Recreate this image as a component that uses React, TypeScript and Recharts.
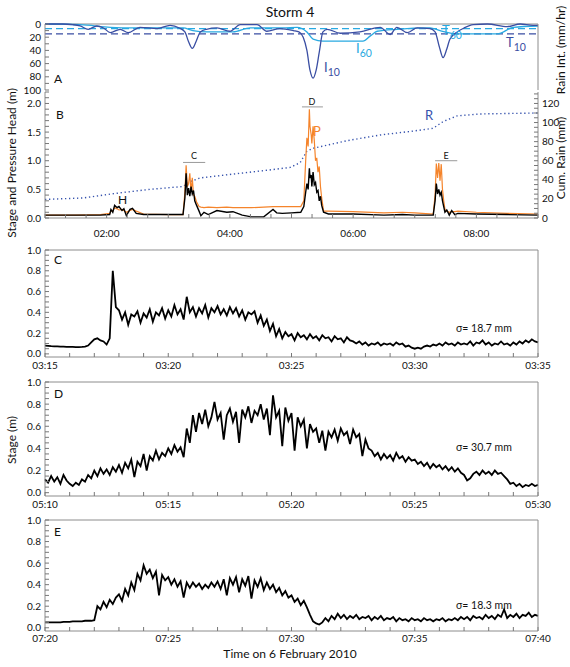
import { LineChart, Line, XAxis, YAxis, ReferenceLine } from 'recharts';

const GRAY = '#8c8c8c';
const TICK = '#777777';
const FONT = 'Lato, "Open Sans", sans-serif';
const DARK_BLUE = '#3a4ea3';
const CYAN = '#29a9e1';
const ORANGE = '#f5842b';
const R_BLUE = '#3552ad';

// Panel A: rain intensity (mm/hr), time in hours
const I10_TIME = [1.0, 1.29, 1.45, 1.57, 1.7, 1.84, 1.95, 2.06, 2.22, 2.35, 2.54, 2.82, 3.03, 3.18, 3.27, 3.33, 3.39, 3.45, 3.52, 3.62, 3.79, 4.0, 4.17, 4.44, 4.6, 4.81, 5.03, 5.12, 5.19, 5.25, 5.3, 5.35, 5.4, 5.45, 5.51, 5.58, 5.79, 6.11, 6.44, 6.6, 6.71, 6.88, 7.04, 7.25, 7.33, 7.4, 7.46, 7.52, 7.57, 7.69, 7.8, 7.95, 8.18, 8.5, 8.71, 8.92, 9.0];
const I10_VAL = [0, 0, 1, 3, 8, 3, 6, 13, 8, 13, 5, 7, 2, 6, 12, 27, 37, 27, 12, 8, 6, 11, 1, 1, 11, 7, 10, 12, 20, 40, 70, 82, 70, 43, 12, 8, 14, 12, 5, 16, 5, 13, 6, 7, 12, 35, 51, 38, 23, 12, 6, 1, 0, 4, 0, 2, 2];
const I60_TIME = [1.0, 1.57, 2.06, 2.43, 3.24, 3.4, 3.63, 4.05, 4.33, 4.86, 5.09, 5.25, 5.35, 5.51, 6.16, 6.28, 6.39, 6.71, 7.25, 7.41, 7.69, 8.34, 8.6, 9.0];
const I60_VAL = [0, 1, 5, 6, 6, 10, 12, 12, 6, 6, 5, 12, 23, 26, 26, 18, 11, 8, 6, 10, 15, 15, 5, 3];
const T10 = 15;
const T60 = 7;

// Panel B: stage (H) and pressure head (P) in m, cumulative rain (R) in mm
const B_TIME = [1.0, 1.5, 1.9, 2.05, 2.07, 2.1, 2.13, 2.17, 2.2, 2.25, 2.28, 2.32, 2.38, 2.42, 2.48, 2.6, 3.0, 3.24, 3.27, 3.29, 3.31, 3.33, 3.35, 3.37, 3.39, 3.41, 3.43, 3.46, 3.5, 3.53, 3.58, 3.65, 3.79, 3.95, 4.05, 4.2, 4.35, 4.55, 4.7, 4.76, 4.85, 5.0, 5.15, 5.2, 5.23, 5.25, 5.27, 5.29, 5.3, 5.32, 5.33, 5.35, 5.37, 5.39, 5.41, 5.43, 5.45, 5.47, 5.49, 5.52, 5.6, 6.0, 6.5, 6.8, 7.0, 7.3, 7.33, 7.35, 7.37, 7.39, 7.41, 7.43, 7.45, 7.47, 7.49, 7.52, 7.56, 7.6, 7.65, 7.7, 8.0, 8.5, 9.0];
const B_STAGE = [0.05, 0.05, 0.05, 0.06, 0.15, 0.1, 0.22, 0.18, 0.2, 0.13, 0.16, 0.04, 0.15, 0.17, 0.08, 0.06, 0.06, 0.06, 0.35, 0.78, 0.4, 0.52, 0.38, 0.55, 0.42, 0.48, 0.3, 0.22, 0.12, 0.04, 0.1, 0.06, 0.13, 0.1, 0.11, 0.05, 0.02, 0.02, 0.15, 0.09, 0.08, 0.09, 0.1, 0.2, 0.45, 0.6, 0.5, 0.87, 0.7, 0.75, 0.55, 0.8, 0.58, 0.62, 0.45, 0.48, 0.3, 0.38, 0.22, 0.1, 0.07, 0.07, 0.05, 0.06, 0.05, 0.05, 0.3, 0.6, 0.42, 0.5, 0.4, 0.45, 0.3, 0.2, 0.1, 0.14, 0.05, 0.13, 0.06, 0.08, 0.07, 0.06, 0.05];
const B_PRESS = [0.05, 0.05, 0.06, 0.08, 0.12, 0.12, 0.18, 0.16, 0.14, 0.15, 0.13, 0.1, 0.13, 0.15, 0.12, 0.07, 0.06, 0.06, 0.45, 0.92, 0.55, 0.6, 0.78, 0.45, 0.7, 0.4, 0.38, 0.28, 0.2, 0.19, 0.18, 0.19, 0.18, 0.19, 0.18, 0.18, 0.18, 0.19, 0.2, 0.2, 0.2, 0.2, 0.2, 0.3, 1.0, 1.4, 1.25, 1.9, 1.6, 1.45, 1.3, 1.6, 1.35, 1.0, 1.05, 0.8, 0.9, 0.55, 0.35, 0.12, 0.12, 0.11, 0.09, 0.1, 0.09, 0.07, 0.4, 0.95, 0.7, 0.96, 0.65, 0.94, 0.5, 0.3, 0.15, 0.12, 0.1, 0.11, 0.11, 0.12, 0.1, 0.08, 0.07];
const R_TIME = [1.0, 1.62, 2.17, 2.7, 3.24, 3.35, 3.52, 4.05, 4.6, 4.98, 5.14, 5.25, 5.35, 5.9, 6.44, 6.97, 7.3, 7.46, 7.69, 8.06, 9.0];
const R_CUM = [19.5, 21, 26, 30, 33, 38, 42, 46, 50, 53, 58, 70, 73, 81, 87, 91, 94, 101, 107, 109, 110];
const BRACKETS = [
  { name: 'C', from: 3.24, to: 3.6, y: 0.97 },
  { name: 'D', from: 5.17, to: 5.51, y: 1.94 },
  { name: 'E', from: 7.33, to: 7.69, y: 1.0 },
];

// Panels C, D, E: stage (m), one sample every 7.5 s over 20 minutes
const STEP_MIN = 0.125;
const C_LABELS = ['03:15', '03:20', '03:25', '03:30', '03:35'];
const D_LABELS = ['05:10', '05:15', '05:20', '05:25', '05:30'];
const E_LABELS = ['07:20', '07:25', '07:30', '07:35', '07:40'];
const C_STAGE = [
  0.08, 0.078, 0.075, 0.073, 0.072, 0.07, 0.069, 0.068, 0.067, 0.067, 0.066, 0.066, 0.067, 0.07,
  0.08, 0.11, 0.14, 0.15, 0.13, 0.12, 0.09, 0.15, 0.8, 0.45,
  0.42, 0.33, 0.4, 0.28, 0.38, 0.36, 0.41, 0.3,
  0.39, 0.35, 0.43, 0.31, 0.4, 0.37, 0.44, 0.34,
  0.42, 0.36, 0.47, 0.38, 0.43, 0.33, 0.55, 0.4,
  0.45, 0.36, 0.44, 0.39, 0.47, 0.35, 0.44, 0.4,
  0.46, 0.38, 0.43, 0.37, 0.45, 0.39, 0.44, 0.36,
  0.42, 0.33, 0.4, 0.38, 0.41, 0.3, 0.37, 0.27,
  0.33, 0.22, 0.29, 0.17, 0.24, 0.15, 0.21, 0.17,
  0.19, 0.13, 0.2, 0.16, 0.18, 0.14, 0.19, 0.15,
  0.17, 0.13, 0.18, 0.15, 0.16, 0.12, 0.17, 0.14,
  0.15, 0.11, 0.16, 0.13, 0.12, 0.1, 0.12, 0.09,
  0.11, 0.08, 0.1, 0.09, 0.11, 0.08, 0.1, 0.09,
  0.1, 0.08, 0.11, 0.09, 0.1, 0.07, 0.08, 0.06,
  0.05, 0.06, 0.05, 0.07, 0.08, 0.07, 0.09, 0.08,
  0.1, 0.08, 0.11, 0.09, 0.1, 0.08, 0.11, 0.09,
  0.1, 0.09, 0.12, 0.08, 0.11, 0.1, 0.13, 0.09,
  0.11, 0.08, 0.1, 0.09, 0.12, 0.09, 0.1, 0.08,
  0.11, 0.09, 0.12, 0.1, 0.13, 0.11, 0.14, 0.12, 0.11,
];
const D_STAGE = [
  0.12, 0.09, 0.15, 0.1, 0.14, 0.08, 0.16, 0.11,
  0.08, 0.06, 0.09, 0.07, 0.12, 0.1, 0.16, 0.13,
  0.2, 0.15, 0.22, 0.17, 0.21, 0.16, 0.23, 0.19,
  0.25, 0.18, 0.27, 0.22, 0.3, 0.14, 0.28, 0.24,
  0.35, 0.2, 0.33, 0.29, 0.38, 0.3, 0.36, 0.33,
  0.4, 0.35, 0.43, 0.37, 0.41, 0.32, 0.58, 0.45,
  0.7, 0.55, 0.72, 0.62, 0.75, 0.6, 0.68, 0.82,
  0.66, 0.72, 0.48, 0.7, 0.76, 0.64, 0.73, 0.45,
  0.75, 0.68, 0.78, 0.63, 0.74, 0.7, 0.8, 0.66,
  0.76, 0.52, 0.88, 0.68, 0.74, 0.42, 0.77, 0.65,
  0.72, 0.38, 0.68, 0.6, 0.66, 0.4, 0.62, 0.55,
  0.58, 0.45, 0.56, 0.38, 0.55, 0.5, 0.57, 0.47,
  0.58, 0.52, 0.55, 0.44, 0.57, 0.5, 0.53, 0.33,
  0.48, 0.4, 0.38, 0.33, 0.36, 0.3, 0.35, 0.31,
  0.34, 0.29, 0.36, 0.31, 0.33, 0.28, 0.32, 0.29,
  0.3, 0.26, 0.28, 0.24, 0.27, 0.22, 0.26, 0.23,
  0.25, 0.21, 0.24, 0.2, 0.23, 0.19, 0.22, 0.18,
  0.16, 0.11, 0.13, 0.17, 0.19, 0.16, 0.2, 0.17,
  0.19, 0.16, 0.2, 0.17, 0.18, 0.15, 0.12, 0.08,
  0.09, 0.06, 0.08, 0.05, 0.07, 0.06, 0.08, 0.06, 0.07,
];
const E_STAGE = [
  0.05, 0.05, 0.05, 0.05, 0.05, 0.05, 0.055, 0.055,
  0.055, 0.06, 0.06, 0.06, 0.06, 0.065, 0.065, 0.065,
  0.07, 0.2, 0.17, 0.24, 0.19, 0.26, 0.22, 0.28,
  0.31, 0.25, 0.36, 0.3, 0.42, 0.35, 0.5, 0.44,
  0.58, 0.5, 0.54, 0.46, 0.52, 0.3, 0.49, 0.44,
  0.47, 0.4, 0.45, 0.38, 0.43, 0.28, 0.42, 0.37,
  0.42, 0.38, 0.41, 0.36, 0.4, 0.37, 0.42, 0.38,
  0.43, 0.36, 0.45, 0.3, 0.46, 0.4, 0.47, 0.33,
  0.45, 0.39, 0.48, 0.27, 0.44, 0.38, 0.46, 0.35,
  0.42, 0.36, 0.4, 0.33, 0.37, 0.3, 0.34, 0.28,
  0.3, 0.24, 0.27, 0.21, 0.25, 0.19, 0.12, 0.06,
  0.04, 0.03, 0.05, 0.09, 0.06, 0.11, 0.08, 0.13,
  0.09, 0.12, 0.08, 0.11, 0.09, 0.12, 0.08, 0.1,
  0.09, 0.11, 0.07, 0.1, 0.08, 0.11, 0.07, 0.09,
  0.08, 0.1, 0.06, 0.09, 0.07, 0.08, 0.06, 0.09,
  0.07, 0.08, 0.06, 0.09, 0.07, 0.08, 0.06, 0.08,
  0.07, 0.09, 0.06, 0.08, 0.07, 0.09, 0.07, 0.1,
  0.08, 0.1, 0.07, 0.11, 0.09, 0.1, 0.08, 0.12,
  0.09, 0.11, 0.08, 0.12, 0.1, 0.17, 0.09, 0.12,
  0.1, 0.13, 0.09, 0.12, 0.11, 0.14, 0.1, 0.12, 0.11,
];

function range(a: number, b: number, s: number) {
  const out: number[] = [];
  for (let i = 0; a + i * s <= b + 1e-9; i++) out.push(+(a + i * s).toFixed(4));
  return out;
}

function onStep(v: number, step: number) {
  const r = v / step;
  return Math.abs(r - Math.round(r)) < 1e-6;
}

// label only the majors, minor ticks keep an empty label
const majorFmt = (step: number, fmt: (v: number) => string) => (v: number) => (onStep(v, step) ? fmt(v) : '');

const tickText = { fontSize: 10, fill: '#111', fontFamily: FONT };

// inward ticks, IDL box style
const yAxisBase = {
  tickSize: -4,
  tickMargin: 8,
  interval: 0 as const,
  tickLine: { stroke: TICK },
  axisLine: { stroke: GRAY },
  tick: tickText,
};

const xAxisBase = (margin: number) => ({
  tickSize: -4,
  tickMargin: margin,
  interval: 0 as const,
  tickLine: { stroke: TICK },
  axisLine: { stroke: GRAY },
  tick: tickText,
});

const hourFmt = (h: number) => `0${Math.round(h)}:00`;

function PanelA() {
  const i10 = I10_TIME.map((t, i) => ({ t, v: I10_VAL[i] }));
  const i60 = I60_TIME.map((t, i) => ({ t, v: I60_VAL[i] }));
  const yt = range(0, 100, 10);
  return (
    <LineChart width={570} height={100} margin={{ top: 24, right: 0, bottom: 10, left: 0 }}>
      <XAxis dataKey="t" type="number" domain={[1, 9]} hide />
      <YAxis yAxisId="l" width={45} domain={[0, 100]} reversed ticks={yt} {...yAxisBase} tickFormatter={majorFmt(20, String)} />
      <YAxis yAxisId="r" orientation="right" width={32} domain={[0, 100]} reversed ticks={yt} {...yAxisBase} tickFormatter={majorFmt(20, String)} />
      <ReferenceLine yAxisId="l" y={0} stroke={GRAY} />
      <ReferenceLine yAxisId="l" y={T60} stroke={CYAN} strokeDasharray="7 4" strokeWidth={1.2} />
      <ReferenceLine yAxisId="l" y={T10} stroke={DARK_BLUE} strokeDasharray="7 4" strokeWidth={1.2} />
      <Line yAxisId="l" data={i60} dataKey="v" type="monotone" stroke={CYAN} strokeWidth={1.3} dot={false} isAnimationActive={false} />
      <Line yAxisId="l" data={i10} dataKey="v" type="monotone" stroke={DARK_BLUE} strokeWidth={1.3} dot={false} isAnimationActive={false} />
    </LineChart>
  );
}

function PanelB() {
  const hp = B_TIME.map((t, i) => ({ t, h: B_STAGE[i], p: B_PRESS[i] }));
  const rc = R_TIME.map((t, i) => ({ t, r: R_CUM[i] }));
  return (
    <LineChart width={570} height={166} margin={{ top: 8, right: 0, bottom: 0, left: 0 }}>
      <XAxis dataKey="t" type="number" domain={[1, 9]} ticks={range(1, 9, 1 / 3)} height={32} {...xAxisBase(16)} tickFormatter={majorFmt(2, hourFmt)} />
      <YAxis yAxisId="l" width={45} domain={[0, 2.2]} ticks={range(0, 2.2, 0.1)} {...yAxisBase} tickFormatter={majorFmt(0.5, (v) => v.toFixed(1))} />
      <YAxis yAxisId="r" orientation="right" width={32} domain={[0, 132]} ticks={range(0, 130, 5)} {...yAxisBase} tickFormatter={majorFmt(20, String)} />
      {BRACKETS.map((b) => (
        <ReferenceLine key={b.name} yAxisId="l" segment={[{ x: b.from, y: b.y }, { x: b.to, y: b.y }]} stroke="#999" strokeWidth={1} />
      ))}
      <Line yAxisId="r" data={rc} dataKey="r" stroke={R_BLUE} strokeWidth={1.4} strokeDasharray="1.3 2.7" dot={false} isAnimationActive={false} />
      <Line yAxisId="l" data={hp} dataKey="p" stroke={ORANGE} strokeWidth={1.2} dot={false} isAnimationActive={false} />
      <Line yAxisId="l" data={hp} dataKey="h" stroke="#000" strokeWidth={1.4} dot={false} isAnimationActive={false} />
    </LineChart>
  );
}

function StagePanel({ values, labels, plotH, margin }: { values: number[]; labels: string[]; plotH: number; margin: number }) {
  const data = values.map((s, i) => ({ t: i * STEP_MIN, s }));
  const yt = range(0, 1, 0.05);
  return (
    <LineChart width={570} height={plotH + 33} data={data} margin={{ top: 8, right: 0, bottom: 0, left: 0 }}>
      <XAxis dataKey="t" type="number" domain={[0, 20]} ticks={range(0, 20, 1)} height={25} {...xAxisBase(margin)} tickFormatter={majorFmt(5, (v) => labels[Math.round(v / 5)])} />
      <YAxis yAxisId="l" width={45} domain={[-0.03, 1]} ticks={yt} {...yAxisBase} tickFormatter={majorFmt(0.2, (v) => v.toFixed(1))} />
      <YAxis yAxisId="r" orientation="right" width={32} domain={[-0.03, 1]} ticks={yt} {...yAxisBase} tickFormatter={() => ''} />
      <ReferenceLine yAxisId="l" y={1} stroke={GRAY} />
      <Line yAxisId="l" dataKey="s" stroke="#000" strokeWidth={1.8} dot={false} isAnimationActive={false} />
    </LineChart>
  );
}

function Sub({ x, y, main, sub, color }: { x: number; y: number; main: string; sub: string; color: string }) {
  return (
    <text x={x} y={y} fill={color} fontFamily={FONT} fontSize={13}>
      {main}
      <tspan dy={4} fontSize={10.5}>{sub}</tspan>
    </text>
  );
}

export default function App() {
  const t = { fontFamily: FONT, fill: '#111' };
  return (
    <div style={{ position: 'absolute', left: 0, top: 0, width: 570, height: 667, background: '#fff' }}>
      <div style={{ position: 'absolute', left: 0, top: 0 }}>
        <PanelA />
      </div>
      <div style={{ position: 'absolute', left: 0, top: 84 }}>
        <PanelB />
      </div>
      <div style={{ position: 'absolute', left: 0, top: 242 }}>
        <StagePanel values={C_STAGE} labels={C_LABELS} plotH={107} margin={9} />
      </div>
      <div style={{ position: 'absolute', left: 0, top: 374 }}>
        <StagePanel values={D_STAGE} labels={D_LABELS} plotH={114} margin={9} />
      </div>
      <div style={{ position: 'absolute', left: 0, top: 512 }}>
        <StagePanel values={E_STAGE} labels={E_LABELS} plotH={111} margin={8} />
      </div>
      <svg width={570} height={667} style={{ position: 'absolute', left: 0, top: 0, pointerEvents: 'none' }}>
        <text x={290} y={17} textAnchor="middle" fontSize={14} {...t}>Storm 4</text>
        <text x={54} y={83} fontSize={12} {...t}>A</text>
        <text x={56} y={119} fontSize={12} {...t}>B</text>
        <text x={54} y={264} fontSize={12} {...t}>C</text>
        <text x={54} y={398} fontSize={12} {...t}>D</text>
        <text x={54} y={536} fontSize={12} {...t}>E</text>
        <Sub x={324} y={72} main="I" sub="10" color={DARK_BLUE} />
        <Sub x={356} y={53} main="I" sub="60" color={CYAN} />
        <Sub x={442} y={35} main="T" sub="60" color={CYAN} />
        <Sub x={506} y={47} main="T" sub="10" color={DARK_BLUE} />
        <text x={118} y={204} fontSize={12} {...t}>H</text>
        <text x={313} y={136} fontSize={13} fontFamily={FONT} fill={ORANGE}>P</text>
        <text x={425} y={120} fontSize={13} fontFamily={FONT} fill={R_BLUE}>R</text>
        <text x={194} y={159} fontSize={9} textAnchor="middle" {...t}>C</text>
        <text x={312} y={105} fontSize={9} textAnchor="middle" {...t}>D</text>
        <text x={446} y={159} fontSize={9} textAnchor="middle" {...t}>E</text>
        <text x={456} y={332} fontSize={10.5} {...t}>σ= 18.7 mm</text>
        <text x={456} y={451} fontSize={10.5} {...t}>σ= 30.7 mm</text>
        <text x={456} y={609} fontSize={10.5} {...t}>σ= 18.3 mm</text>
        <text x={290} y={658} textAnchor="middle" fontSize={12} {...t}>Time on 6 February 2010</text>
        <text transform="translate(16,163) rotate(-90)" textAnchor="middle" fontSize={12} {...t}>Stage and Pressure Head (m)</text>
        <text transform="translate(16,440) rotate(-90)" textAnchor="middle" fontSize={12} {...t}>Stage (m)</text>
        <text transform="translate(565,50) rotate(-90)" textAnchor="middle" fontSize={12} {...t}>Rain Int. (mm/hr)</text>
        <text transform="translate(565,158) rotate(-90)" textAnchor="middle" fontSize={12} {...t}>Cum. Rain (mm)</text>
      </svg>
    </div>
  );
}
